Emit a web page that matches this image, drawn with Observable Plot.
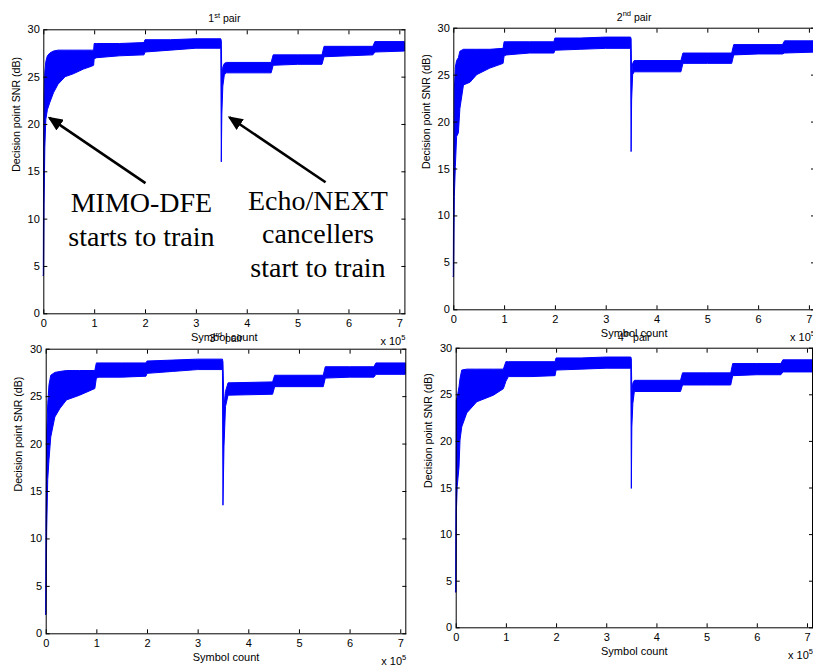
<!DOCTYPE html>
<html>
<head>
<meta charset="utf-8">
<script src="https://cdn.jsdelivr.net/npm/d3@7"></script>
<script src="https://cdn.jsdelivr.net/npm/@observablehq/plot@0.6"></script>
<style>
  html, body { margin: 0; padding: 0; background: white; }
  #wrap { position: relative; width: 813px; height: 666px; overflow: hidden; background: white; }
  #wrap svg { position: absolute; left: 0; top: 0; }
</style>
</head>
<body>
<div id="wrap"></div>
<script>
// ---- Data (symbol count in units of 1e5, SNR in dB: band) ----
const xTicks = [0, 1, 2, 3, 4, 5, 6, 7];
const yTicks = [0, 5, 10, 15, 20, 25, 30];
const titles = ["1st pair", "2nd pair", "3rd pair", "4th pair"];
const xLabel = "Symbol count";
const yLabel = "Decision point SNR (dB)";
const xExponent = "x 10^5";

const pair1X  = [0, 0.005, 0.015, 0.03, 0.05, 0.08, 0.13, 0.2, 0.29, 0.43, 0.59, 0.79, 0.95, 0.99, 1.0, 1.05, 1.5, 1.98, 2.0, 2.5, 3.0, 3.49, 3.5, 3.51, 3.53, 3.56, 3.6, 4.48, 4.52, 5.0, 5.48, 5.52, 6.0, 6.48, 6.52, 7.1];
const pair1Hi = [4, 15, 23, 25.5, 26.6, 27.2, 27.5, 27.7, 27.8, 27.8, 27.8, 27.8, 27.8, 27.8, 28.5, 28.5, 28.5, 28.6, 28.9, 28.9, 29.0, 29.0, 28.8, 25.0, 26.0, 26.4, 26.5, 26.5, 27.3, 27.3, 27.3, 28.2, 28.2, 28.2, 28.7, 28.7];
const pair1Lo = [4, 4, 11.5, 17.5, 20.5, 21.5, 22.3, 23.3, 24.2, 25.0, 25.3, 25.8, 26.1, 26.2, 26.9, 27.0, 27.2, 27.3, 27.6, 27.8, 28.0, 28.0, 16.0, 21.0, 24.0, 25.2, 25.4, 25.4, 26.2, 26.3, 26.3, 27.1, 27.2, 27.3, 27.6, 27.7];

const pair2X  = [0, 0.005, 0.02, 0.04, 0.065, 0.1, 0.13, 0.2, 0.33, 0.46, 0.72, 0.98, 1.0, 1.05, 1.5, 1.98, 2.0, 2.5, 3.0, 3.49, 3.5, 3.51, 3.53, 3.56, 3.6, 4.48, 4.52, 5.0, 5.48, 5.52, 6.0, 6.48, 6.52, 7.1];
const pair2Hi = [3.5, 12, 23.4, 25.8, 26.5, 26.8, 27.5, 27.7, 27.7, 27.7, 27.7, 27.8, 28.5, 28.5, 28.5, 28.5, 28.9, 28.9, 29.0, 29.0, 28.8, 24.8, 26.2, 26.5, 26.5, 26.5, 27.3, 27.3, 27.3, 28.2, 28.2, 28.2, 28.6, 28.6];
const pair2Lo = [3.5, 3.5, 12, 15.2, 18.4, 18.8, 21.4, 23.9, 24.2, 25.0, 25.7, 26.2, 27.0, 27.1, 27.3, 27.3, 27.6, 27.7, 27.8, 27.8, 16.8, 22.3, 25.0, 25.3, 25.3, 25.3, 26.2, 26.2, 26.2, 27.1, 27.2, 27.2, 27.3, 27.4];

const pair3X  = [0, 0.005, 0.02, 0.04, 0.065, 0.1, 0.18, 0.28, 0.41, 0.67, 0.97, 1.0, 1.05, 1.5, 1.98, 2.0, 2.5, 3.0, 3.49, 3.5, 3.52, 3.55, 3.6, 4.48, 4.52, 5.0, 5.48, 5.52, 6.0, 6.48, 6.52, 7.1];
const pair3Hi = [2, 12, 21.1, 24.2, 26.2, 27.2, 27.5, 27.6, 27.7, 27.7, 27.7, 28.5, 28.5, 28.5, 28.5, 28.7, 28.8, 28.9, 28.9, 28.6, 23.9, 25.5, 26.4, 26.5, 27.2, 27.2, 27.2, 28.1, 28.1, 28.1, 28.5, 28.5];
const pair3Lo = [2, 2, 11, 16.2, 18.3, 20.7, 22.8, 23.7, 24.6, 25.1, 25.8, 26.9, 27.0, 27.0, 27.1, 27.4, 27.6, 27.8, 27.8, 13.5, 19.7, 23.9, 25.1, 25.2, 26.0, 26.0, 26.0, 26.9, 27.0, 27.0, 27.3, 27.3];

const pair4X  = [0, 0.005, 0.013, 0.03, 0.066, 0.086, 0.12, 0.22, 0.42, 0.75, 0.95, 1.0, 1.05, 1.5, 1.98, 2.0, 2.5, 3.0, 3.49, 3.5, 3.51, 3.53, 3.56, 4.48, 4.52, 5.0, 5.48, 5.52, 6.0, 6.48, 6.52, 7.1];
const pair4Hi = [3.8, 14, 24.4, 24.7, 25.8, 26.7, 27.6, 27.7, 27.7, 27.7, 27.7, 28.5, 28.5, 28.5, 28.5, 28.9, 28.9, 29.0, 29.0, 28.8, 25.2, 26.2, 26.5, 26.5, 27.3, 27.3, 27.3, 28.3, 28.3, 28.3, 28.7, 28.7];
const pair4Lo = [3.8, 3.8, 12.4, 15.1, 17.2, 20.1, 21.5, 23.0, 24.2, 24.9, 25.6, 26.4, 26.9, 26.9, 27.0, 27.6, 27.7, 27.8, 27.8, 14.9, 21.5, 24.0, 25.3, 25.3, 26.0, 26.0, 26.0, 27.0, 27.1, 27.1, 27.4, 27.4];

// annotations on the first panel (data coordinates)
const noteTexts = ["MIMO-DFE\nstarts to train", "Echo/NEXT\ncancellers\nstart to train"];
const noteX = [1.92, 5.39];
const noteY = [10.08, 8.59];
const arrowFromX = [2.0, 5.54];
const arrowFromY = [13.8, 13.9];
const arrowToX = [0.11, 3.65];
const arrowToY = [20.7, 20.76];

// ---- Layout of the four panels (frame edges in page pixels) ----
const W = 813, H = 666;
const frames = [
  {l: 43.3,  r: 404.4, t: 29.3,  b: 313.3},
  {l: 453.3, r: 814.0, t: 27.7,  b: 309.3},
  {l: 45.7,  r: 405.3, t: 348.7, b: 633.3},
  {l: 455.7, r: 812.0, t: 347.7, b: 627.3}
];
const series = [
  [pair1X, pair1Hi, pair1Lo],
  [pair2X, pair2Hi, pair2Lo],
  [pair3X, pair3Hi, pair3Lo],
  [pair4X, pair4Hi, pair4Lo]
];

const SANS = "'Liberation Sans', Arial, Helvetica, sans-serif";
const SERIF = "'Liberation Serif', 'Times New Roman', Times, serif";

function filledArrow(color, context) {
  const doc = (context && context.document) || document;
  const ns = "http://www.w3.org/2000/svg";
  const m = doc.createElementNS(ns, "marker");
  m.setAttribute("viewBox", "-15 -6.5 15 13");
  m.setAttribute("markerUnits", "userSpaceOnUse");
  m.setAttribute("markerWidth", 15);
  m.setAttribute("markerHeight", 13);
  m.setAttribute("orient", "auto");
  m.setAttribute("refX", -2);
  m.setAttribute("refY", 0);
  const p = doc.createElementNS(ns, "path");
  p.setAttribute("d", "M-15,-6.5L0,0L-15,6.5Z");
  p.setAttribute("fill", color);
  p.setAttribute("stroke", "none");
  m.appendChild(p);
  return m;
}

function panel(i, markerEnd) {
  const f = frames[i];
  const [xs, hi, lo] = series[i];
  const data = xs.map((x, k) => ({x, hi: hi[k], lo: lo[k]}));
  const marks = [
    Plot.areaY(data, {x: "x", y1: "lo", y2: "hi", fill: "#0000ff", stroke: "#0000ff", strokeWidth: 1, curve: "linear"}),
    Plot.frame({stroke: "black", strokeWidth: 1}),
    Plot.axisX({anchor: "bottom", ticks: xTicks, tickSize: -4, tickFormat: () => "", label: null}),
    Plot.axisX({anchor: "top", ticks: xTicks, tickSize: -4, tickFormat: () => "", label: null}),
    Plot.axisY({anchor: "left", ticks: yTicks, tickSize: -4, tickFormat: () => "", label: null}),
    Plot.axisY({anchor: "right", ticks: yTicks, tickSize: -4, tickFormat: () => "", label: null}),
    Plot.axisX({anchor: "bottom", ticks: xTicks, tickSize: 0, tickPadding: 5.5, tickFormat: d3.format("d"), label: null, fontSize: 11}),
    Plot.axisY({anchor: "left", ticks: yTicks, tickSize: 0, tickPadding: 4, tickFormat: d3.format("d"), label: null, fontSize: 11}),
    Plot.text([titles[i]], {text: d => d, frameAnchor: "top", dy: -11, lineAnchor: "middle", fontSize: 10.5}),
    Plot.text([xLabel], {text: d => d, frameAnchor: "bottom", dy: 23.4, lineAnchor: "middle", fontSize: 11}),
    Plot.text([xExponent], {text: d => d, frameAnchor: "bottom-right", dx: -24.5, dy: 27.5, textAnchor: "start", lineAnchor: "middle", fontSize: 11}),
    Plot.text([yLabel], {text: d => d, frameAnchor: "left", dx: -27.3, rotate: -90, lineAnchor: "middle", fontSize: 10.6})
  ];
  if (i === 0) {
    const notes = noteTexts.map((t, k) => ({t, x: noteX[k], y: noteY[k]}));
    const arrows = arrowFromX.map((x, k) => ({x1: x, y1: arrowFromY[k], x2: arrowToX[k], y2: arrowToY[k]}));
    marks.push(
      Plot.link(arrows, {x1: "x1", y1: "y1", x2: "x2", y2: "y2", stroke: "black", strokeWidth: 2.6, markerEnd}),
      Plot.text(notes, {x: "x", y: "y", text: "t", fontFamily: SERIF, fontSize: 28, lineHeight: 1.2, lineAnchor: "middle", fill: "black"})
    );
  }
  return Plot.plot({
    width: W,
    height: H,
    marginLeft: f.l,
    marginRight: W - f.r,
    marginTop: f.t,
    marginBottom: H - f.b,
    x: {domain: [0, 7.1]},
    y: {domain: [0, 30]},
    style: {background: "transparent", overflow: "visible", fontFamily: SANS, fontSize: "11px", color: "black"},
    marks
  });
}

function supText(el, base, sup, rest) {
  const s = d3.select(el);
  s.text(null);
  s.append("tspan").text(base);
  s.append("tspan").attr("dy", -4.5).attr("font-size", "7.5px").text(sup);
  if (rest) s.append("tspan").attr("dy", 4.5).text(rest);
}

function fixSuperscripts(svg) {
  d3.select(svg).selectAll("text").each(function () {
    if (this.querySelector("tspan")) return;
    const t = this.textContent;
    let m = t.match(/^(\d)(st|nd|rd|th) pair$/);
    if (m) { supText(this, m[1], m[2], " pair"); return; }
    m = t.match(/^x 10\^(\d)$/);
    if (m) supText(this, "x 10", m[1], "");
  });
}

const wrap = document.getElementById("wrap");
for (let i = 0; i < 4; i++) {
  let svg;
  try { svg = panel(i, filledArrow); }
  catch (e) { svg = panel(i, "arrow"); }
  fixSuperscripts(svg);
  wrap.appendChild(svg);
}
</script>
</body>
</html>
